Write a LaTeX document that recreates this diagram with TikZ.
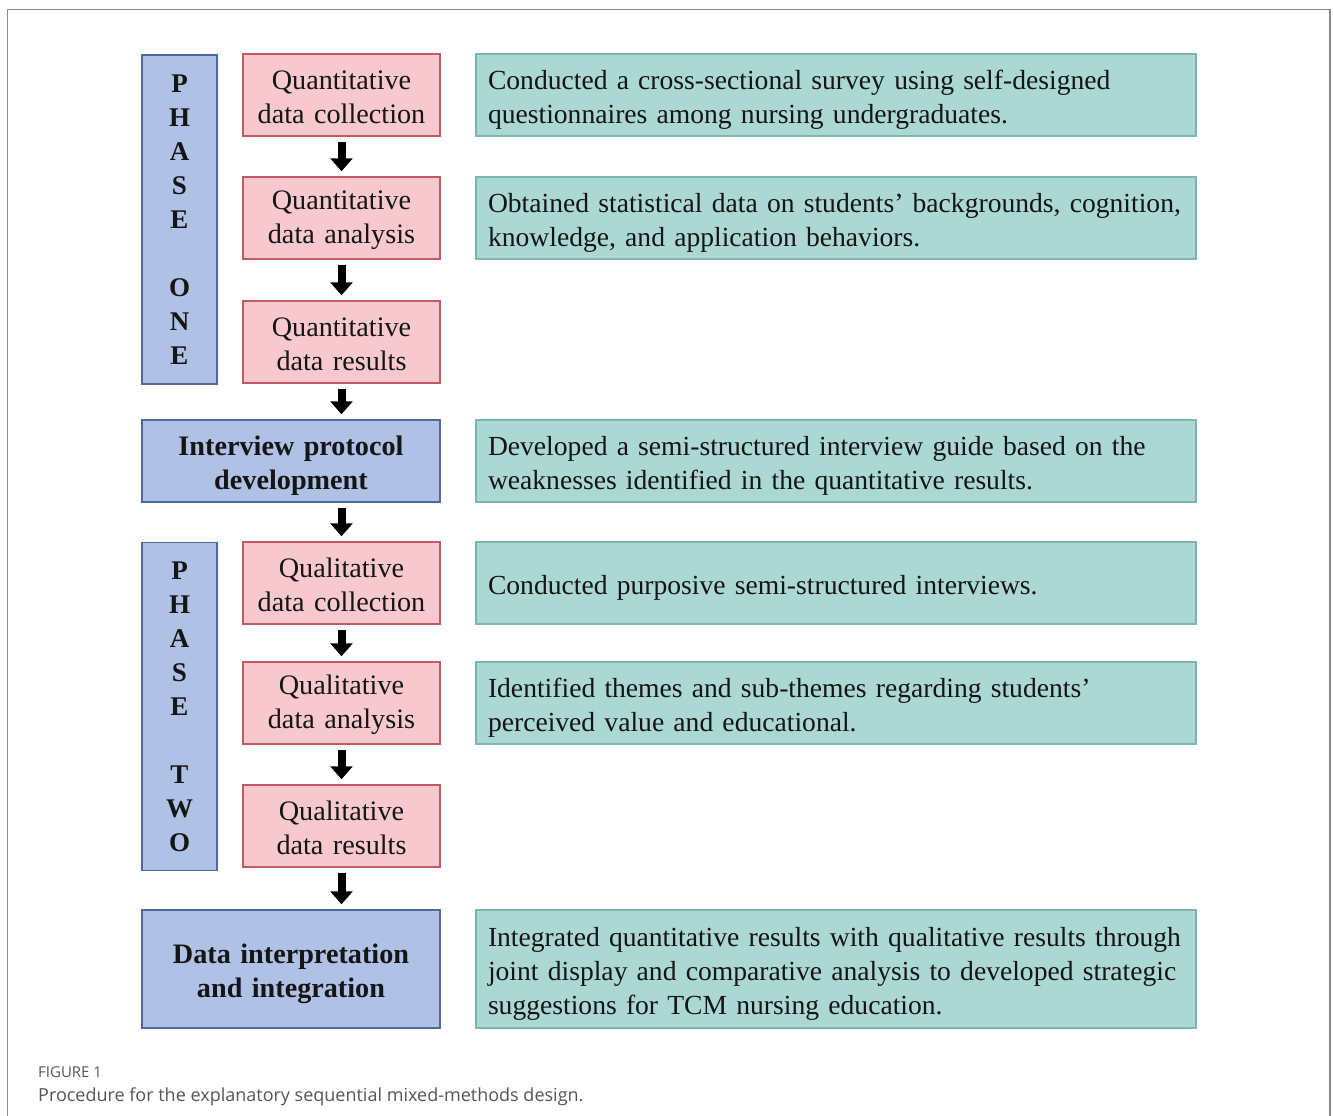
\documentclass[tikz,border=0pt]{standalone}
\usepackage{fontspec}
\setmainfont{Liberation Serif}
\newfontfamily\capfont{Open Sans}
\usetikzlibrary{arrows.meta}
\definecolor{bluefill}{HTML}{AFC1E5}
\definecolor{blueline}{HTML}{4E6A9C}
\definecolor{pinkfill}{HTML}{F7C8CD}
\definecolor{pinkline}{HTML}{C25A66}
\definecolor{greenfill}{HTML}{ABD8D3}
\definecolor{greenline}{HTML}{7DB6AE}
\definecolor{framegray}{HTML}{8A8A8E}
\definecolor{capgray}{HTML}{555555}
\definecolor{txt}{HTML}{151515}
\begin{document}
\begin{tikzpicture}[x=1pt,y=-1pt,
 base/.style={draw,line width=1.5pt,inner sep=0pt,font=\fontsize{28.2}{34}\selectfont,text=txt},
 pinkbox/.style={base,fill=pinkfill,draw=pinkline,minimum width=197pt,minimum height=82pt,text width=197pt,align=center,execute at begin node={\rule{0pt}{23pt}}},
 greenbox/.style={base,fill=greenfill,draw=greenline,minimum width=720pt,minimum height=82pt,text width=696pt,inner xsep=12pt,align=left,font=\fontsize{27.6}{34}\selectfont,execute at begin node={\rule{0pt}{28pt}}},
 bluebox/.style={base,fill=bluefill,draw=blueline,minimum width=298pt,minimum height=82pt,text width=298pt,align=center,font=\fontsize{28.2}{34}\selectfont\bfseries,execute at begin node={\rule{0pt}{29pt}}},
 phasebox/.style={base,fill=bluefill,draw=blueline,minimum width=75pt,align=center,font=\fontsize{27}{34}\selectfont\bfseries},
 arr/.style={line width=8pt,-{Triangle[width=22pt,length=13pt]},shorten <=5pt,shorten >=5pt,draw=black}
]
\useasboundingbox (0,0) rectangle (1333,1116);
\fill[white] (0,0) rectangle (1333,1116);
\draw[framegray,line width=1.2pt] (7.5,1120) -- (7.5,9.5) -- (1330,9.5) -- (1330,1120);

% Phase one
\node[phasebox,minimum height=329pt] (p1) at (179.5,219.5) {P\\H\\A\\S\\E\\\mbox{}\\O\\N\\E};
\node[pinkbox] (qnc) at (341.5,95) {Quantitative\\data collection};
\node[pinkbox] (qna) at (341.5,218) {Quantitative\\data analysis};
\node[pinkbox] (qnr) at (341.5,342) {Quantitative\\data results};
\node[greenbox] (g1) at (836,95) {\mbox{Conducted a cross-sectional survey using self-designed}\\\mbox{questionnaires among nursing undergraduates.}};
\node[greenbox] (g2) at (836,218) {\mbox{Obtained statistical data on students’ backgrounds, cognition,}\\\mbox{knowledge, and application behaviors.}};

% Interview
\node[bluebox] (ip) at (291,461) {Interview protocol\\development};
\node[greenbox] (g3) at (836,461) {\mbox{Developed a semi-structured interview guide based on the}\\\mbox{weaknesses identified in the quantitative results.}};

% Phase two
\node[phasebox,minimum height=328pt] (p2) at (179.5,706.5) {P\\H\\A\\S\\E\\\mbox{}\\T\\W\\O};
\node[pinkbox] (qlc) at (341.5,583) {Qualitative\\data collection};
\node[pinkbox] (qla) at (341.5,703) {Qualitative\\data analysis};
\node[pinkbox] (qlr) at (341.5,826) {Qualitative\\data results};
\node[greenbox] (g4) at (836,583) {\mbox{Conducted purposive semi-structured interviews.}};
\node[greenbox] (g5) at (836,703) {\mbox{Identified themes and sub-themes regarding students’}\\\mbox{perceived value and educational.}};

% Data interpretation
\node[bluebox,minimum height=118pt] (di) at (291,969) {Data interpretation\\and integration};
\node[greenbox,minimum height=118pt] (g6) at (836,969) {\mbox{Integrated quantitative results with qualitative results through}\\\mbox{joint display and comparative analysis to developed strategic}\\\mbox{suggestions for TCM nursing education.}};

% Arrows
\draw[arr] (qnc.south) -- (qna.north);
\draw[arr] (qna.south) -- (qnr.north);
\draw[arr] (qnr.south) -- (qnr.south |- ip.north);
\draw[arr] (qlc.north |- ip.south) -- (qlc.north);
\draw[arr] (qlc.south) -- (qla.north);
\draw[arr] (qla.south) -- (qlr.north);
\draw[arr] (qlr.south) -- (qlr.south |- di.north);

% Caption
\node[anchor=base west,inner sep=0pt,font=\capfont\fontsize{15}{18}\selectfont,text=capgray] (figlabel) at (38,1077) {FIGURE 1};
\node[anchor=base west,inner sep=0pt,font=\capfont\fontsize{18}{22}\selectfont,text=capgray] (figcap) at (38,1101) {Procedure for the explanatory sequential mixed-methods design.};
\end{tikzpicture}
\end{document}
